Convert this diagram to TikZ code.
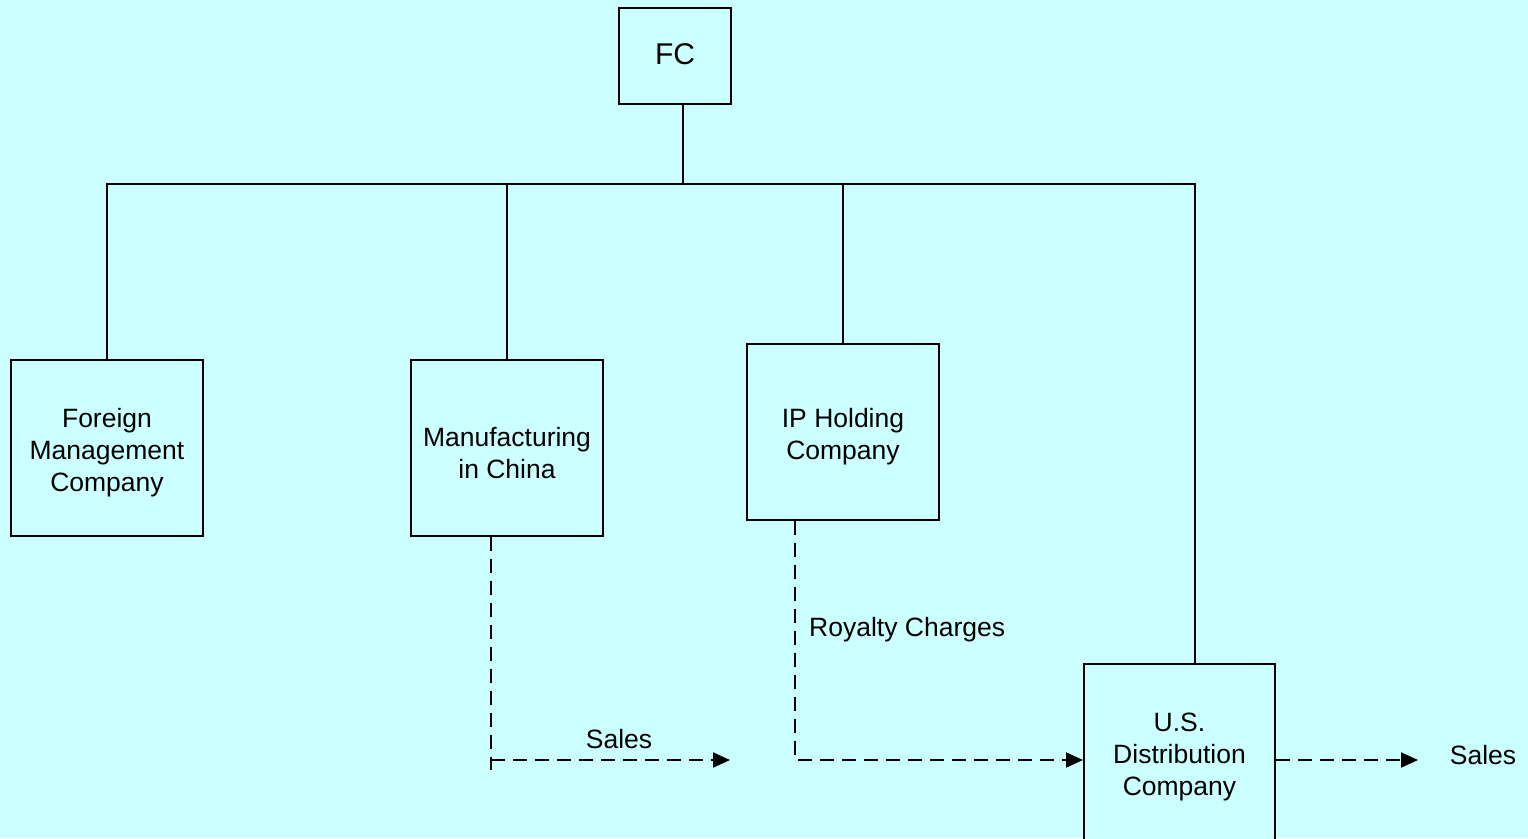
\documentclass[tikz,border=0pt]{standalone}
\usepackage{fontspec}
\setmainfont{Liberation Sans}
\usetikzlibrary{arrows.meta}
\definecolor{bg}{HTML}{CCFFFF}
\begin{document}
\begin{tikzpicture}[x=1pt,y=-1pt,
  box/.style={draw=black,line width=2pt,fill=bg,minimum width=192pt,minimum height=176pt,
    inner sep=0pt},
  btext/.style={align=center,inner sep=0pt,font=\fontsize{26.5}{32}\selectfont},
  wire/.style={line width=2pt},
  flow/.style={line width=2pt,dash pattern=on 14pt off 8pt},
  tip/.style={-{Triangle[length=17pt,width=15pt]}},
  lbl/.style={font=\fontsize{26.5}{32}\selectfont,inner sep=0pt}]
\useasboundingbox (0,0) rectangle (1528,838);
\clip (0,0) rectangle (1528,838);
\fill[bg] (0,0) rectangle (1528,838);
% boxes
\node[box,minimum width=112pt,minimum height=96pt] (fc) at (675,56) {};
\node[box] (fm) at (107,448) {};
\node[box] (mfg) at (507,448) {};
\node[box] (ip) at (843,432) {};
\node[box,minimum width=191pt] (us) at (1179.5,752) {};
% box texts
\node[btext,font=\fontsize{30}{36}\selectfont] (fcT) at ([yshift=2pt]fc.center) {FC};
\node[btext] (fmT) at ([yshift=-5pt]fm.center) {Foreign\\Management\\Company};
\node[btext] (mfgT) at ([yshift=-5pt]mfg.center) {Manufacturing\\in China};
\node[btext] (ipT) at ([yshift=-5pt]ip.center) {IP Holding\\Company};
\node[btext] (usT) at ([yshift=-5pt]us.center) {U.S.\\Distribution\\Company};
% coordinates
\coordinate (fcout) at (683,104);
\coordinate (bus) at (683,184);
\coordinate (usin) at (1195,664);
\coordinate (mtop) at ([xshift=-16pt]mfg.south);
\coordinate (mend) at (491,770);
\coordinate (mcorner) at (491,760);
\coordinate (salesA) at (730,760);
\coordinate (iptop) at ([xshift=-48pt]ip.south);
\coordinate (usleft) at ([yshift=-8pt]us.west);
\coordinate (usright) at ([yshift=-8pt]us.east);
\coordinate (salesB) at (1418,760);
% tree
\draw[wire] (fcout) -- (bus);
\draw[wire] (fm.north) -- (fm.north |- bus) -- (bus -| usin) -- (usin);
\draw[wire] (mfg.north) -- (mfg.north |- bus);
\draw[wire] (ip.north) -- (ip.north |- bus);
% flows
\draw[flow] (mtop) -- (mend);
\draw[flow,tip] (mcorner) -- (salesA);
\draw[flow,tip] (iptop) |- (usleft);
\draw[flow,tip] (usright) -- (salesB);
% labels
\node[lbl] (ls1) at (619,739) {Sales};
\node[lbl,anchor=west] (lrc) at (809,630) {Royalty Charges};
\node[lbl] (ls2) at (1483,755) {Sales};
\end{tikzpicture}
\end{document}
